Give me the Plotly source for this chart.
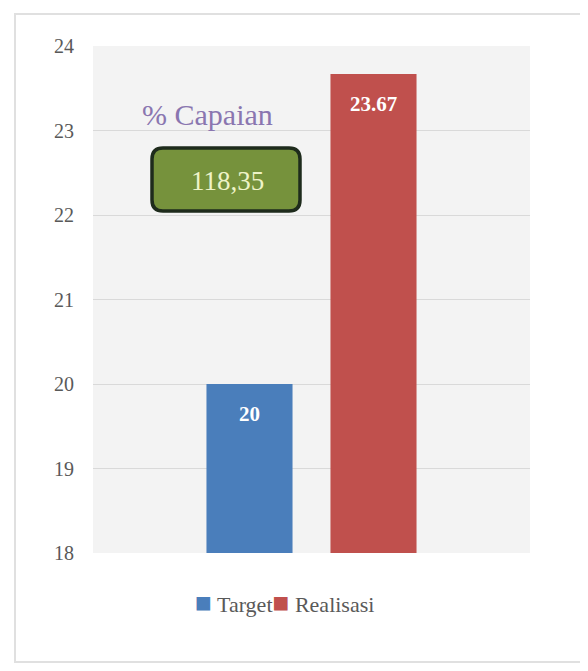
import plotly.graph_objects as go

categories = ["Capaian"]
series_names = ["Target", "Realisasi"]
series_values = [[20], [23.67]]
series_colors = ["#4a7ebb", "#c0504d"]
value_labels = ["20", "23.67"]
capaian_label = "% Capaian"
capaian_value = "118,35"
y_ticks = [18, 19, 20, 21, 22, 23, 24]

OFF = 8  # page body margin
W, H = 580, 663
L, R, T, B = 85, 58, 38, 118
pw, ph = W - L - R, H - T - B
SERIF = "Liberation Serif, Times New Roman, serif"

def px(x):
    return (x - OFF - L) / pw

def py(y):
    return (H - B - (y - OFF)) / ph

fig = go.Figure()
for name, vals, col in zip(series_names, series_values, series_colors):
    fig.add_trace(go.Bar(x=categories, y=vals, name=name, marker=dict(color=col, line=dict(width=0)),
                         hoverinfo="skip"))

bargap = 0.4325
bargroupgap = 0.306
slot = pw * (1 - bargap) / 2
for i, (vals, lab) in enumerate(zip(series_values, value_labels)):
    fig.add_annotation(x=categories[0], y=vals[0], xref="x", yref="y", text="<b>" + lab + "</b>",
                       showarrow=False, xshift=(i - 0.5) * slot, yshift=-30, xanchor="center",
                       font=dict(family=SERIF, size=21, color="white"))

# rounded box
x0, x1, y0, y1, r = 152, 300, 148, 211, 11
path = (f"M {px(x0 + r)} {py(y0)} L {px(x1 - r)} {py(y0)} Q {px(x1)} {py(y0)} {px(x1)} {py(y0 + r)} "
        f"L {px(x1)} {py(y1 - r)} Q {px(x1)} {py(y1)} {px(x1 - r)} {py(y1)} "
        f"L {px(x0 + r)} {py(y1)} Q {px(x0)} {py(y1)} {px(x0)} {py(y1 - r)} "
        f"L {px(x0)} {py(y0 + r)} Q {px(x0)} {py(y0)} {px(x0 + r)} {py(y0)} Z")
fig.add_shape(type="path", path=path, xref="paper", yref="paper",
              fillcolor="#76923c", line=dict(color="#1e2b1c", width=3.5))
fig.add_annotation(x=px(227), y=py(181), xref="paper", yref="paper", xanchor="center", yanchor="middle",
                   text=capaian_value, showarrow=False,
                   font=dict(family=SERIF, size=27, color="#eef3c8"))
fig.add_annotation(x=px(207), y=py(114), xref="paper", yref="paper", xanchor="center", yanchor="middle",
                   text=capaian_label, showarrow=False,
                   font=dict(family=SERIF, size=30, color="#8a76b0"))

# compact legend
legend_text = "".join(
    f"<span style='color:{c};font-size:28px'>■</span> {n}" for n, c in zip(series_names, series_colors))
fig.add_annotation(x=px(284), y=py(602), xref="paper", yref="paper", xanchor="center", yanchor="middle",
                   text=legend_text, showarrow=False,
                   font=dict(family=SERIF, size=22, color="#595959"))

# outer frame
fig.add_shape(type="rect", xref="paper", yref="paper", x0=px(15), x1=px(585), y0=py(14), y1=py(662),
              line=dict(color="#e0e0e0", width=2), fillcolor="rgba(0,0,0,0)", layer="below")

fig.update_layout(
    width=W, height=H, margin=dict(l=L, r=R, t=T, b=B),
    paper_bgcolor="white", plot_bgcolor="#f3f3f3",
    barmode="group", bargap=bargap, bargroupgap=bargroupgap,
    showlegend=False,
    xaxis=dict(showticklabels=False, showgrid=False, zeroline=False, showline=False, ticks=""),
    yaxis=dict(range=[18, 24], tickvals=y_ticks, showgrid=True, gridcolor="#d9d9d9", gridwidth=1,
               zeroline=False, showline=False, ticks="", ticklabelstandoff=18,
               tickfont=dict(family=SERIF, size=20, color="#595959")),
)

fig.write_html("out.html")
